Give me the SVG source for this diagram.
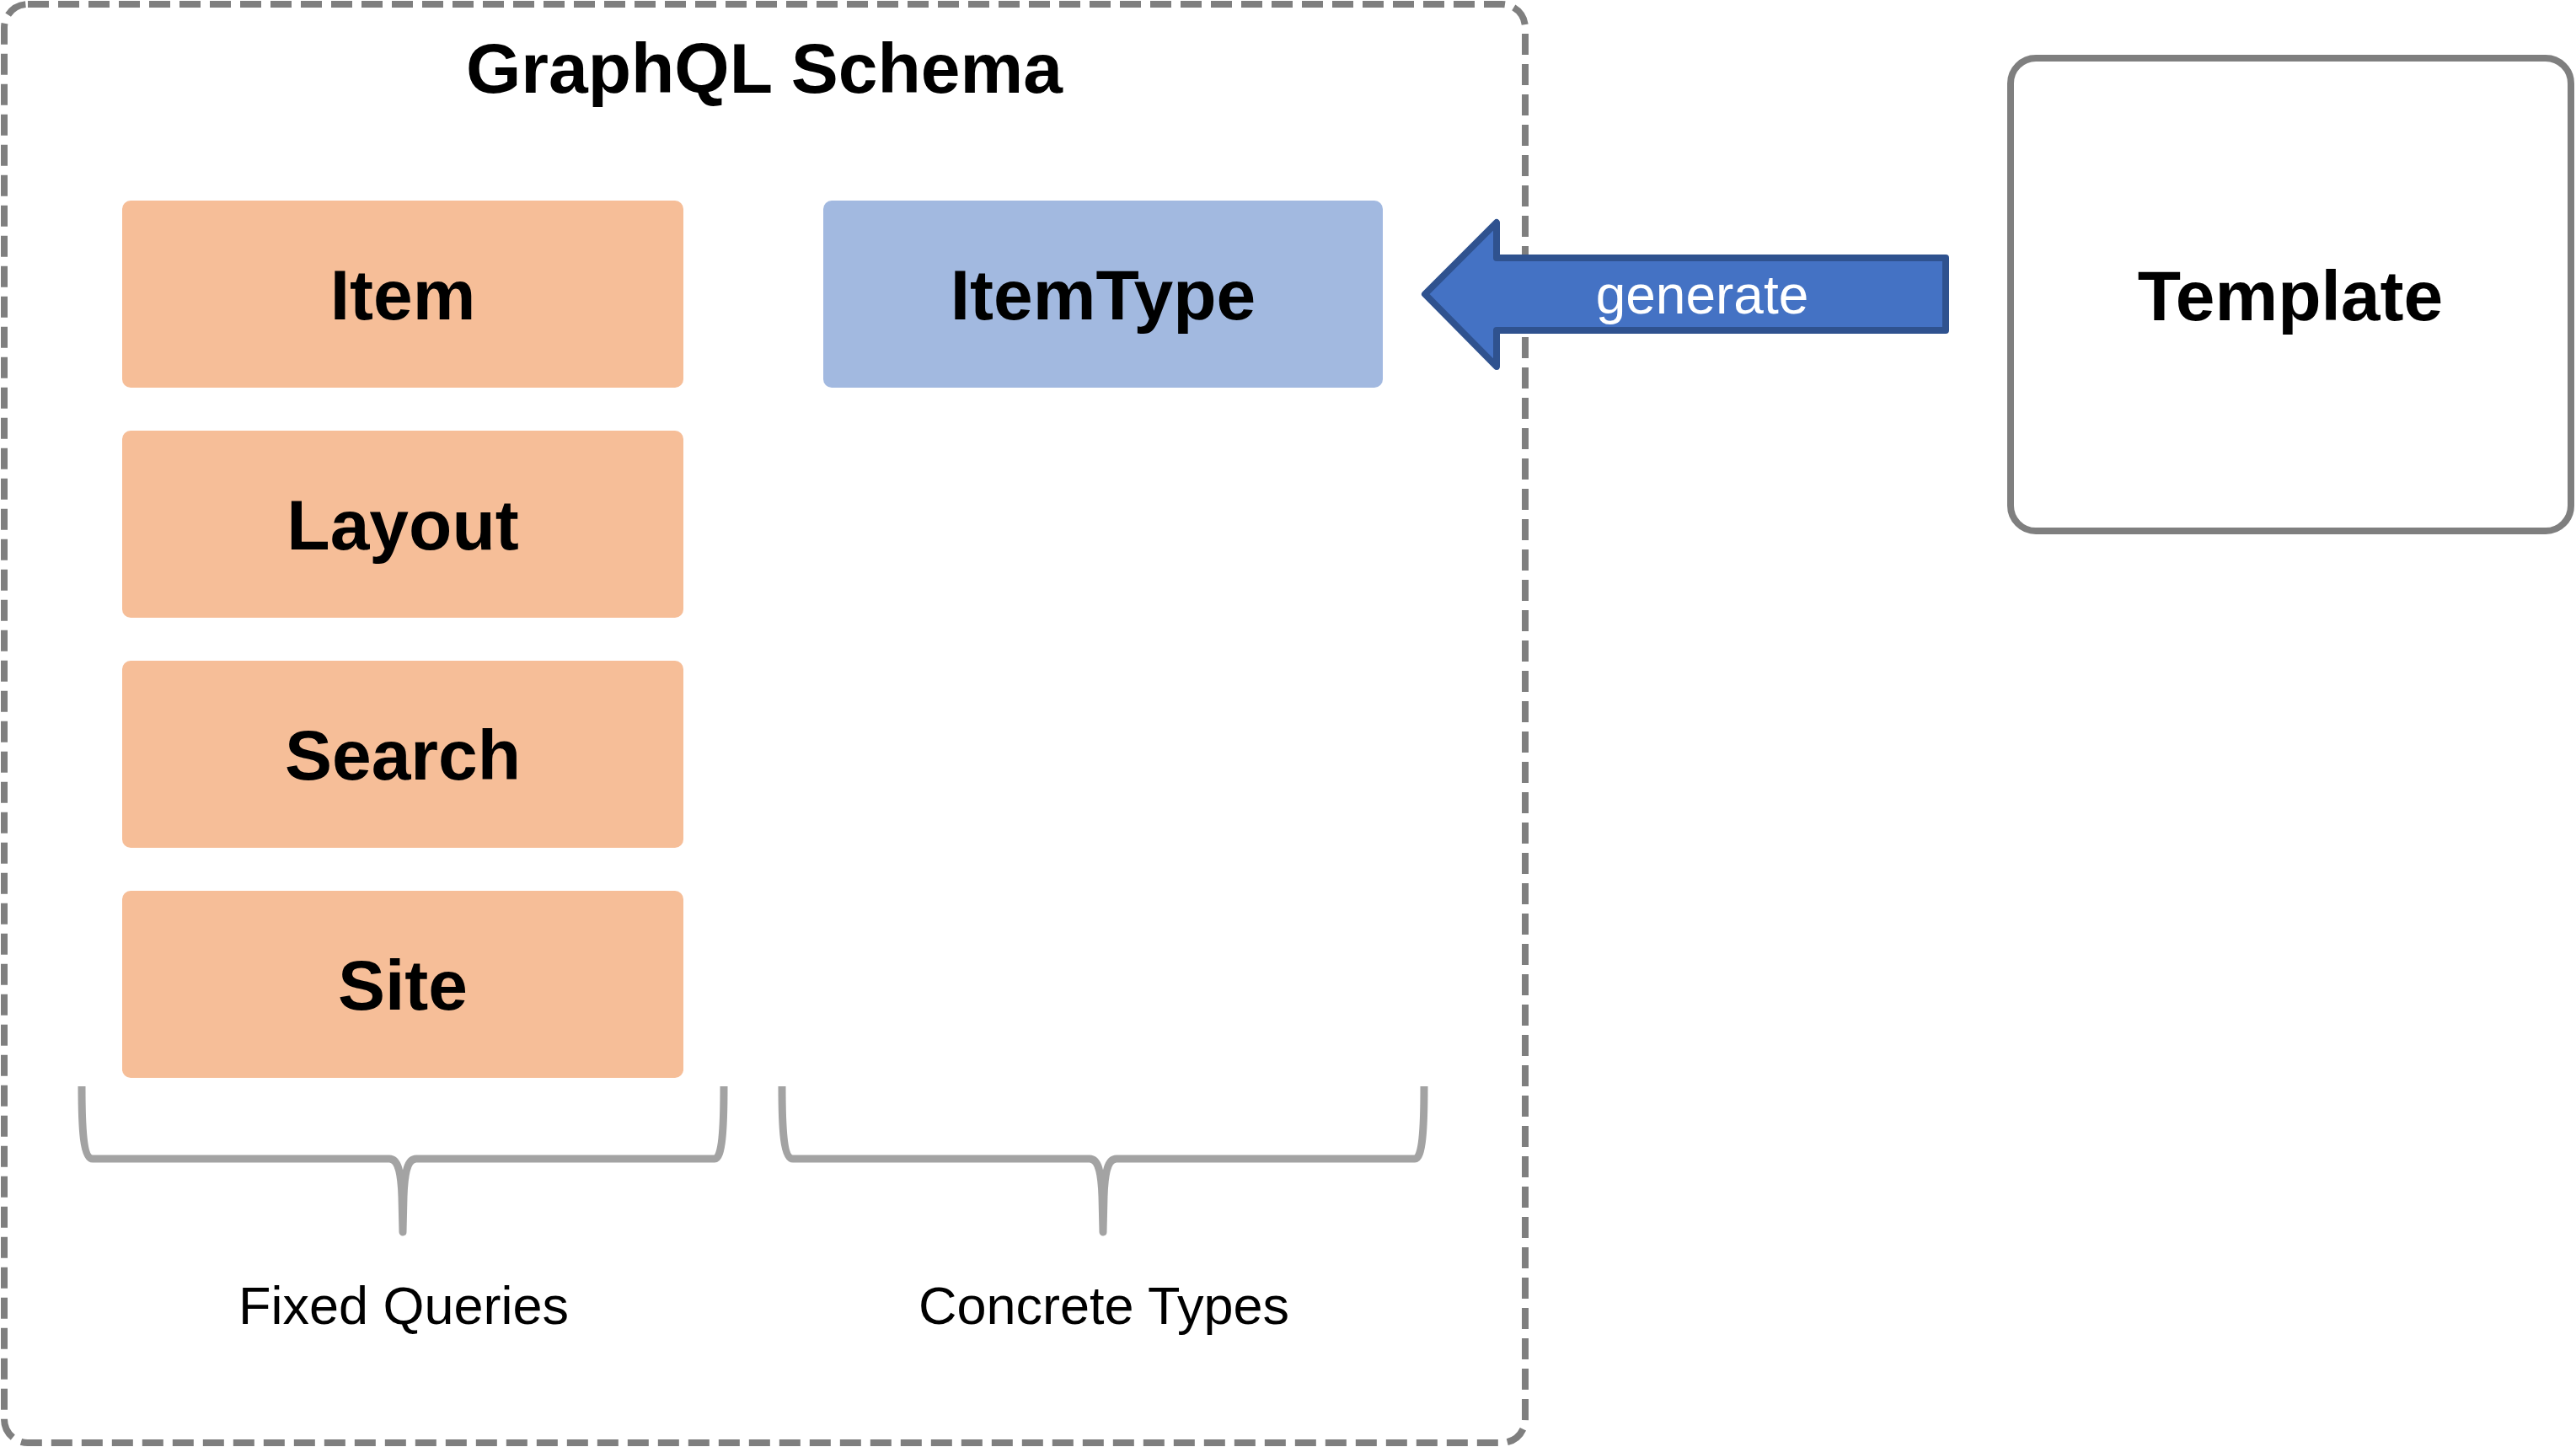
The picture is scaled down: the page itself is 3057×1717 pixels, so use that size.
<svg xmlns="http://www.w3.org/2000/svg" width="3057" height="1717" viewBox="0 0 3057 1717">
<style>
.bold{font-family:"Liberation Sans",Arial,sans-serif;font-weight:bold;font-size:84px;fill:#000;text-anchor:middle}
.reg{font-family:"Liberation Sans",Arial,sans-serif;font-size:63px;fill:#000;text-anchor:middle}
.query{fill:#F6BE98}
.type{fill:#A2B9E0}
.brace{fill:none;stroke:#A3A3A3;stroke-width:9;stroke-linejoin:round}
</style>
<defs>
<path id="bracePath" d="M 97 1289 C 97 1340 99 1375 110 1375 L 462 1375 C 472 1375 476 1390 477 1420 L 478 1462 L 479 1420 C 480 1390 484 1375 494 1375 L 848 1375 C 857 1375 859 1340 859 1289"/>
</defs>
<rect width="3057" height="1717" fill="#fff"/>
<g id="schema">
<rect x="5" y="5" width="1805" height="1707" rx="28" fill="none" stroke="#7F7F7F" stroke-width="8" stroke-dasharray="25 11"/>
<text class="bold" x="907" y="110">GraphQL Schema</text>
</g>
<g id="item"><rect class="query" x="145" y="238" width="666" height="222" rx="10"/><text class="bold" x="478" y="379">Item</text></g>
<g id="layout"><rect class="query" x="145" y="511" width="666" height="222" rx="10"/><text class="bold" x="478" y="652">Layout</text></g>
<g id="search"><rect class="query" x="145" y="784" width="666" height="222" rx="10"/><text class="bold" x="478" y="925">Search</text></g>
<g id="site"><rect class="query" x="145" y="1057" width="666" height="222" rx="10"/><text class="bold" x="478" y="1198">Site</text></g>
<g id="itemtype"><rect class="type" x="977" y="238" width="664" height="222" rx="10"/><text class="bold" x="1309" y="379">ItemType</text></g>
<g id="template">
<rect x="2386" y="69" width="665" height="561" rx="30" fill="#fff" stroke="#7F7F7F" stroke-width="8"/>
<text class="bold" x="2718" y="380">Template</text>
</g>
<g id="fixed-queries">
<use href="#bracePath" class="brace"/>
<text class="reg" x="479" y="1571">Fixed Queries</text>
</g>
<g id="concrete-types">
<use href="#bracePath" class="brace" transform="translate(831,0)"/>
<text class="reg" x="1310" y="1571">Concrete Types</text>
</g>
<g id="connectors">
<path d="M 1691 349 L 1776 264 L 1776 306 L 2309 306 L 2309 392 L 1776 392 L 1776 435 Z" fill="#4472C4" stroke="#2F528F" stroke-width="8" stroke-linejoin="round"/>
<text x="2020" y="372" font-family="'Liberation Sans',Arial,sans-serif" font-size="64" fill="#fff" text-anchor="middle">generate</text>
</g>
</svg>
